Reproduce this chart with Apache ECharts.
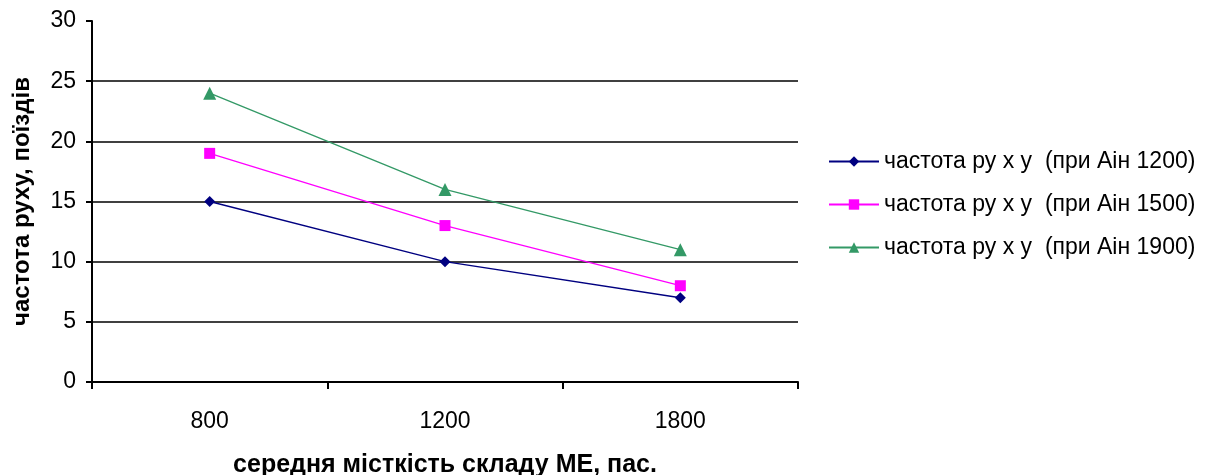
<!DOCTYPE html>
<html>
<head>
<meta charset="utf-8">
<script src="https://cdn.jsdelivr.net/npm/echarts@6/dist/echarts.min.js"></script>
<style>
  html, body { margin: 0; padding: 0; background: #fff; }
  #chart { width: 1210px; height: 475px; }
</style>
</head>
<body>
<div id="chart"></div>
<script>
// Середня місткість складу МЕ (пасажирів)
const capacities = ['800', '1200', '1800'];
// Частота руху поїздів при різних Aін
const freqAin1200 = [15, 10, 7];
const freqAin1500 = [19, 13, 8];
const freqAin1900 = [24, 16, 11];
const seriesNames = [
  'частота ру х у  (при Аін 1200)',
  'частота ру х у  (при Аін 1500)',
  'частота ру х у  (при Аін 1900)'
];
const yTicks = { min: 0, max: 30, interval: 5 };

const font = 'Liberation Sans, Arial, sans-serif';

const chart = echarts.init(document.getElementById('chart'), null, { renderer: 'canvas' });

function line(name, data, color, symbol, size) {
  return {
    name: name,
    type: 'line',
    data: data,
    symbol: symbol,
    symbolSize: size,
    lineStyle: { color: color, width: 1.3 },
    itemStyle: { color: color },
    animation: false
  };
}

chart.setOption({
  animation: false,
  grid: { left: 92, right: 412, top: 21, bottom: 93, outerBoundsMode: 'none', containLabel: false },
  legend: {
    orient: 'vertical',
    left: 823,
    top: 145,
    itemGap: 20,
    itemWidth: 50,
    itemHeight: 13,
    textStyle: { fontFamily: font, fontSize: 23, color: '#000' },
    data: seriesNames
  },
  xAxis: {
    type: 'category',
    data: capacities,
    boundaryGap: true,
    name: 'середня місткість складу МЕ, пас.',
    nameLocation: 'middle',
    nameGap: 71,
    nameTextStyle: { fontFamily: font, fontSize: 25, fontWeight: 'bold', color: '#000' },
    axisLine: { lineStyle: { color: '#000', width: 2 } },
    axisTick: { show: true, length: 7, lineStyle: { color: '#000', width: 2 } },
    axisLabel: { fontFamily: font, fontSize: 23, color: '#000', margin: 28 },
    splitLine: { show: false }
  },
  yAxis: {
    type: 'value',
    min: yTicks.min,
    max: yTicks.max,
    interval: yTicks.interval,
    name: 'частота руху, поїздів',
    nameLocation: 'middle',
    nameGap: 58,
    nameTextStyle: { fontFamily: font, fontSize: 24, fontWeight: 'bold', color: '#000' },
    axisLine: { show: true, lineStyle: { color: '#000', width: 2 } },
    axisTick: { show: true, length: 6, lineStyle: { color: '#000', width: 2 } },
    axisLabel: { fontFamily: font, fontSize: 23, color: '#000', margin: 16 },
    splitLine: {
      show: true,
      lineStyle: { color: '#000', width: 1.5 },
      showMaxLine: false
    }
  },
  series: [
    line(seriesNames[0], freqAin1200, '#000080', 'diamond', 11),
    line(seriesNames[1], freqAin1500, '#FF00FF', 'rect', 11),
    line(seriesNames[2], freqAin1900, '#339966', 'triangle', 13)
  ]
});
</script>
</body>
</html>
